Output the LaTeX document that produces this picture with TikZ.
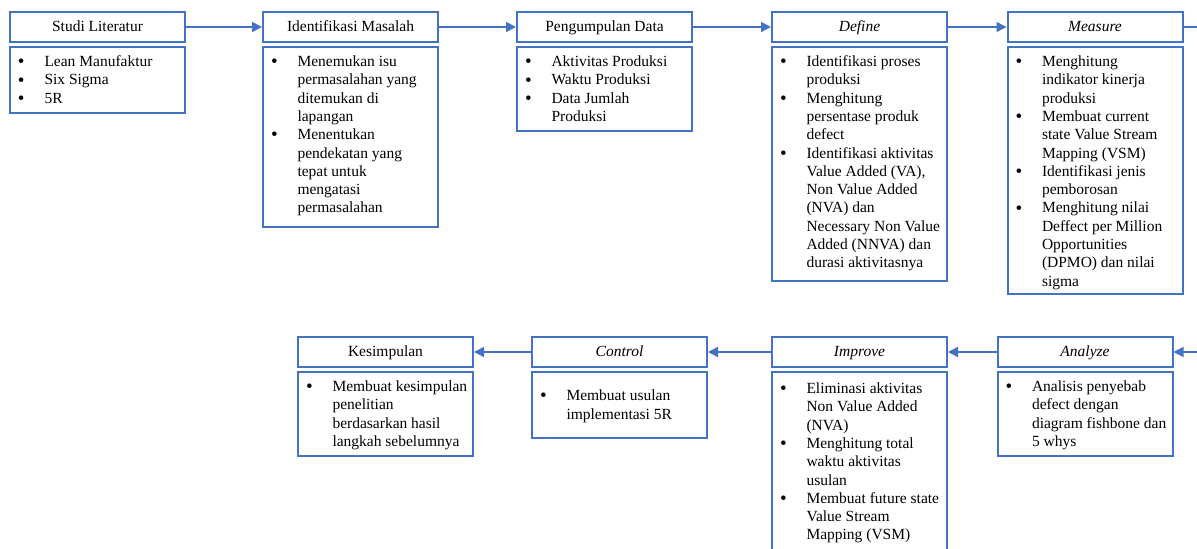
\documentclass[tikz,border=0pt]{standalone}
\usepackage{fontspec}
\setmainfont{Liberation Serif}
\usetikzlibrary{arrows.meta}
\definecolor{garis}{HTML}{4472C4}
\newcommand{\huruf}{\fontsize{7.75pt}{9.15pt}\selectfont}
\newcommand{\tb}{\raisebox{-0.6pt}{\fontsize{9.5pt}{9.15pt}\selectfont\textbullet}}
\newcommand{\daftar}[3][0pt]{\parbox[t][#2][t]{87.5pt}{\vspace*{\dimexpr3.35pt+#1\relax}%
\begin{tabular}[t]{@{\hspace{4pt}}p{13.25pt}@{}l@{}}#3\end{tabular}}}

\begin{document}
\begin{tikzpicture}[x=0.5pt,y=-0.5pt,-{Triangle[length=5pt,width=5pt]}]
  \tikzstyle{judul}=[draw=garis,line width=1pt,minimum width=87.5pt,minimum height=15pt,inner sep=0pt,text height=5.8pt,text depth=1.2pt,font=\huruf]
  \tikzstyle{isi}=[draw=garis,line width=1pt,inner sep=0pt,anchor=north,font=\huruf]
  \tikzstyle{panah}=[draw=garis,line width=0.75pt]
  \useasboundingbox (0,0) rectangle (1197,549);
  \clip (0,0) rectangle (1197,549);

  % baris atas
  \node[judul] (S_1) at (97.5,27) {Studi Literatur};
  \node[judul] (S_2) at (350.5,27) {Identifikasi Masalah};
  \node[judul] (S_3) at (604.5,27) {Pengumpulan Data};
  \node[judul] (S_4) at (859.5,27) {\textit{Define}};
  \node[judul] (S_5) at (1095,27) {\textit{Measure}};
  \coordinate (K_1) at (1197,27);

  \node[isi] (L_1) at (97.5,46) {\daftar{33pt}{%
    \tb & Lean Manufaktur\\
    \tb & Six Sigma\\
    \tb & 5R}};
  \node[isi] (L_2) at (350.5,46) {\daftar{90pt}{%
    \tb & Menemukan isu\\
    & permasalahan yang\\
    & ditemukan di\\
    & lapangan\\
    \tb & Menentukan\\
    & pendekatan yang\\
    & tepat untuk\\
    & mengatasi\\
    & permasalahan}};
  \node[isi] (L_3) at (604.5,46) {\daftar{42pt}{%
    \tb & Aktivitas Produksi\\
    \tb & Waktu Produksi\\
    \tb & Data Jumlah\\
    & Produksi}};
  \node[isi] (L_4) at (859.5,46) {\daftar{117pt}{%
    \tb & Identifikasi proses\\
    & produksi\\
    \tb & Menghitung\\
    & persentase produk\\
    & defect\\
    \tb & Identifikasi aktivitas\\
    & Value Added (VA),\\
    & Non Value Added\\
    & (NVA) dan\\
    & Necessary Non Value\\
    & Added (NNVA) dan\\
    & durasi aktivitasnya}};
  \node[isi] (L_5) at (1095,46) {\daftar{123.5pt}{%
    \tb & Menghitung\\
    & indikator kinerja\\
    & produksi\\
    \tb & Membuat current\\
    & state Value Stream\\
    & Mapping (VSM)\\
    \tb & Identifikasi jenis\\
    & pemborosan\\
    \tb & Menghitung nilai\\
    & Deffect per Million\\
    & Opportunities\\
    & (DPMO) dan nilai\\
    & sigma}};

  % baris bawah
  \coordinate (K_2) at (1197,352);
  \node[judul] (S_6) at (1085,352) {\textit{Analyze}};
  \node[judul] (S_7) at (859.5,352) {\textit{Improve}};
  \node[judul] (S_8) at (619.5,352) {\textit{Control}};
  \node[judul] (S_9) at (385.5,352) {Kesimpulan};

  \node[isi] (L_6) at (1085,371) {\daftar{42pt}{%
    \tb & Analisis penyebab\\
    & defect dengan\\
    & diagram fishbone dan\\
    & 5 whys}};
  \node[isi] (L_7) at (859.5,371) {\daftar[1pt]{100pt}{%
    \tb & Eliminasi aktivitas\\
    & Non Value Added\\
    & (NVA)\\
    \tb & Menghitung total\\
    & waktu aktivitas\\
    & usulan\\
    \tb & Membuat future state\\
    & Value Stream\\
    & Mapping (VSM)}};
  \node[isi] (L_8) at (619.5,371) {\daftar[4.6pt]{33pt}{%
    \tb & Membuat usulan\\
    & implementasi 5R}};
  \node[isi] (L_9) at (385.5,371) {\daftar{42pt}{%
    \tb & Membuat kesimpulan\\
    & penelitian\\
    & berdasarkan hasil\\
    & langkah sebelumnya}};

  \draw[panah] (S_1) -- (S_2);
  \draw[panah] (S_2) -- (S_3);
  \draw[panah] (S_3) -- (S_4);
  \draw[panah] (S_4) -- (S_5);
  \draw[panah,-] (S_5) -- (K_1);
  \draw[panah] (K_2) -- (S_6);
  \draw[panah] (S_6) -- (S_7);
  \draw[panah] (S_7) -- (S_8);
  \draw[panah] (S_8) -- (S_9);
\end{tikzpicture}
\end{document}
